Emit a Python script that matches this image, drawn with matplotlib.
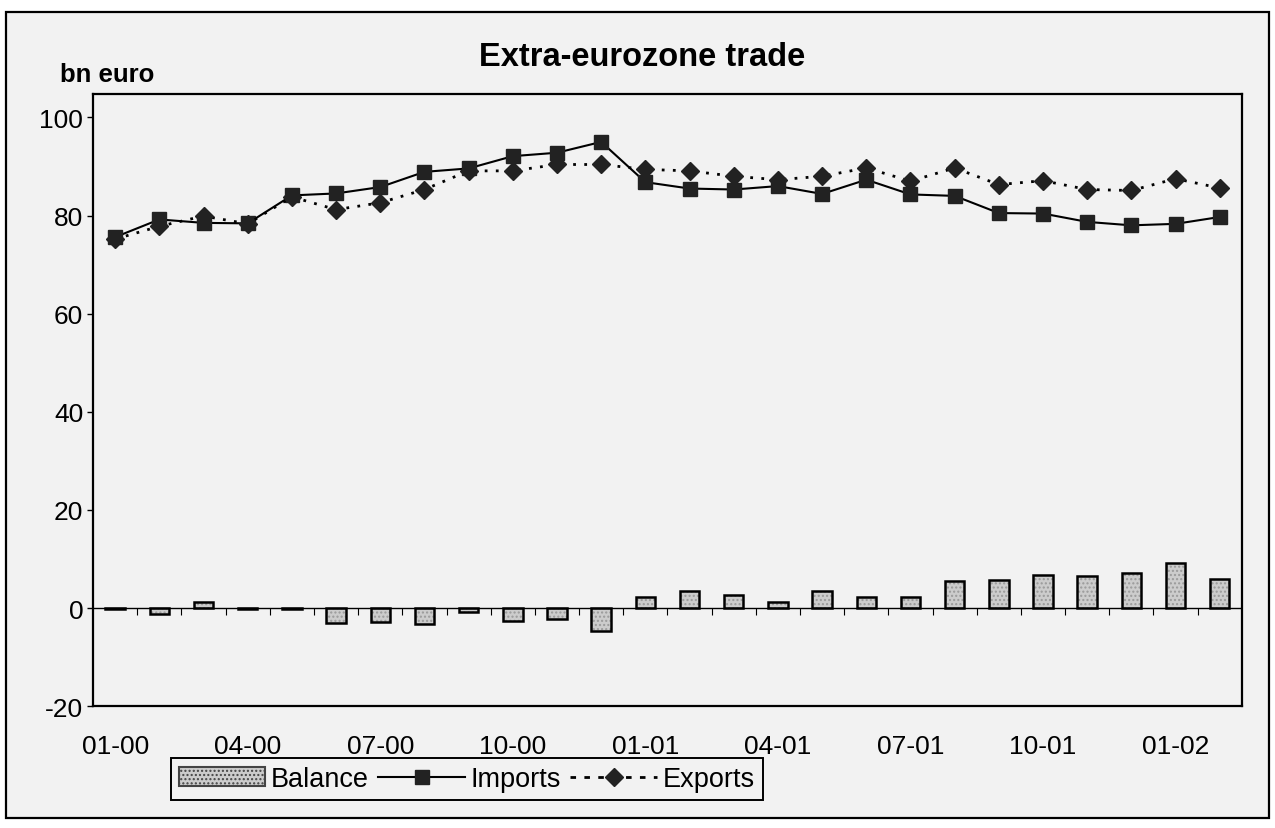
import numpy as np
import matplotlib.pyplot as plt
from matplotlib.patches import Rectangle

plt.rcParams['font.family'] = ['Liberation Sans', 'DejaVu Sans']
plt.rcParams['axes.unicode_minus'] = False

#------------------datos------------------#
meses = ["01-00", "02-00", "03-00", "04-00", "05-00", "06-00", "07-00", "08-00", "09-00",
         "10-00", "11-00", "12-00", "01-01", "02-01", "03-01", "04-01", "05-01", "06-01",
         "07-01", "08-01", "09-01", "10-01", "11-01", "12-01", "01-02", "02-02"]

imports = [75.6, 79.2, 78.5, 78.4, 84.1, 84.5, 85.8, 88.9, 89.6,
           92.1, 92.8, 95.0, 86.8, 85.5, 85.3, 86.0, 84.4, 87.3,
           84.3, 84.0, 80.5, 80.4, 78.7, 78.0, 78.3, 79.7]

exports = [75.2, 77.8, 79.9, 78.3, 83.8, 81.2, 82.6, 85.3, 89.1,
           89.1, 90.4, 90.4, 89.4, 89.1, 88.0, 87.3, 88.0, 89.7,
           87.0, 89.7, 86.3, 87.1, 85.3, 85.1, 87.5, 85.6]

balance = [-0.3, -1.3, 1.2, -0.3, -0.3, -3.0, -2.8, -3.3, -0.8,
           -2.6, -2.3, -4.7, 2.3, 3.4, 2.7, 1.3, 3.5, 2.3,
           2.2, 5.5, 5.8, 6.7, 6.5, 7.2, 9.1, 6.0]

y_ticks = [-20, 0, 20, 40, 60, 80, 100]

#------------------grafica------------------#
fondo = "#f2f2f2"
x = np.arange(len(meses))

fig = plt.figure(figsize=(12.75, 8.29), dpi=100, facecolor="white")
fig.patches.append(Rectangle((0.005, 0.012), 0.99, 0.972, transform=fig.transFigure,
                             facecolor=fondo, edgecolor="black", linewidth=1.6, zorder=-1))

ax = fig.add_axes([0.073, 0.147, 0.901, 0.738])
ax.set_zorder(1)
ax.set_facecolor(fondo)

# balance bars: dotted grey fill, black outline
ax.bar(x, balance, width=0.44, color="#cccccc", hatch="....", edgecolor="#9a9a9a",
       linewidth=0, zorder=2)
ax.bar(x, balance, width=0.44, fill=False, edgecolor="black", linewidth=1.8, zorder=3)

# category axis crossing at zero
ax.axhline(0, color="black", linewidth=1.0, zorder=2)
limites = x[:-1] + 0.5
ax.plot(limites, np.zeros(len(limites)), marker=3, linestyle="none", markersize=5,
        color="black", markeredgewidth=0.8, zorder=2)

ax.plot(x, imports, color="black", linewidth=1.5, marker="s", markersize=10,
        markerfacecolor="#222222", markeredgecolor="#222222", zorder=4)
ax.plot(x, exports, color="black", linewidth=2.0, linestyle=(0, (1, 3)), marker="D",
        markersize=9, markerfacecolor="#222222", markeredgecolor="#222222", zorder=4)

ax.set_xlim(-0.5, len(meses) - 0.5)
ax.set_ylim(-20, 104.7)
ax.set_yticks(y_ticks)
ax.set_xticks(x[::3])
ax.set_xticklabels(meses[::3])
ax.tick_params(axis="x", length=0, pad=20, labelsize=19)
ax.tick_params(axis="y", length=4, width=1, pad=3, labelsize=19)
for s in ax.spines.values():
    s.set_linewidth(1.6)

fig.text(0.504, 0.931, "Extra-eurozone trade", ha="center", va="center",
         fontsize=23.5, fontweight="bold")
fig.text(0.047, 0.909, "bn euro", ha="left", va="center", fontsize=18.5, fontweight="bold")

# leyenda
h_bal = Rectangle((0, 0), 1, 1, facecolor="#cccccc", hatch="....", edgecolor="#444444",
                  linewidth=1.5)
h_imp, = ax.plot([], [], color="black", linewidth=1.5, marker="s", markersize=10,
                 markerfacecolor="#222222", markeredgecolor="#222222")
h_exp, = ax.plot([], [], color="black", linewidth=2.0, linestyle=(0, (2, 3)), marker="D",
                 markersize=9, markerfacecolor="#222222", markeredgecolor="#222222")
leg = fig.legend([h_bal, h_imp, h_exp], ["Balance", "Imports", "Exports"], ncol=3,
                 loc="center", bbox_to_anchor=(0.366, 0.059), fontsize=19.5,
                 handlelength=3.2, handletextpad=0.2, columnspacing=0.35,
                 borderpad=0.3, fancybox=False, framealpha=1)
leg.get_frame().set_facecolor(fondo)
leg.get_frame().set_edgecolor("black")
leg.get_frame().set_linewidth(1.4)

plt.savefig("out.png", dpi=100, facecolor=fig.get_facecolor())
